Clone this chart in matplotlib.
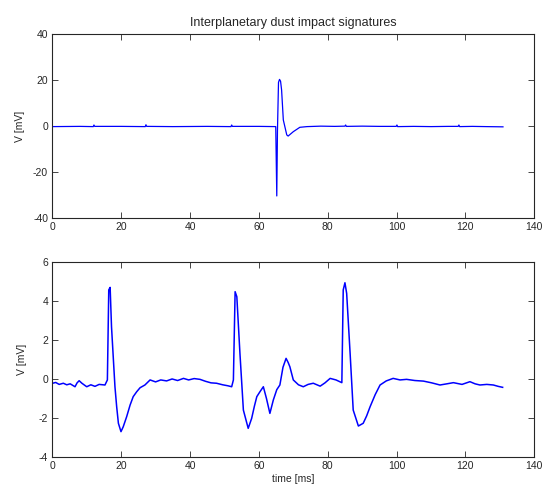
import matplotlib
matplotlib.use("Agg")
import matplotlib.pyplot as plt

# --- Data ---
# top panel: single large impact
t_top = [0.0, 8.0, 11.9, 12.1, 12.3, 20.0, 27.0, 27.2, 27.4, 35.0, 45.0, 51.9, 52.1, 52.3,
         60.0, 64.9, 65.2, 65.4, 65.7, 66.0, 66.3, 66.6, 67.1, 68.1, 68.5, 70.0, 71.9, 74.0,
         78.0, 82.0, 85.0, 85.2, 85.4, 90.0, 95.0, 99.9, 100.1, 100.3, 105.0, 110.0, 115.0,
         117.9, 118.1, 118.3, 122.0, 126.0, 130.9]
v_top = [-0.2, -0.1, -0.2, 0.5, -0.1, -0.1, -0.2, 0.6, -0.1, -0.2, -0.1, -0.2, 0.5, -0.1,
         -0.1, -0.2, -30.3, -2.0, 19.0, 20.3, 19.5, 15.7, 2.7, -3.8, -4.3, -2.4, -0.5, -0.2,
         0.0, -0.1, 0.0, 0.5, -0.1, 0.0, -0.1, -0.1, 0.5, -0.2, -0.1, -0.2, -0.1,
         -0.1, 0.5, -0.2, -0.1, -0.2, -0.3]

# bottom panel: three impacts
t_bot = [0.1, 1.0, 2.0, 3.2, 4.2, 5.2, 6.6, 7.2, 7.8, 8.6, 10.0, 11.2, 12.4, 13.6, 15.3,
         16.0, 16.4, 16.8, 17.2, 17.7, 18.2, 18.7, 19.2, 19.95, 20.6, 21.6, 22.6, 23.5,
         24.5, 25.5, 26.9, 28.4, 30.0, 31.5, 33.2, 34.8, 36.4, 38.1, 39.6, 41.2, 42.9,
         44.5, 46.1, 47.7, 49.5, 51.0, 52.1, 52.6, 53.1, 53.6, 54.5, 55.5, 56.9, 57.9,
         58.7, 59.4, 60.3, 61.3, 62.2, 63.2, 64.2, 65.2, 66.1, 67.0, 67.9, 68.5, 69.0,
         70.0, 71.5, 72.9, 74.3, 75.8, 77.8, 79.2, 80.7, 82.4, 84.1, 84.5, 85.0, 85.5,
         86.5, 87.4, 88.9, 90.3, 91.3, 92.3, 93.8, 95.2, 97.0, 99.0, 101.0, 102.9, 105.3,
         107.8, 110.2, 112.6, 114.6, 116.5, 119.0, 121.3, 122.8, 124.2, 126.2, 128.1,
         129.5, 130.8]
v_bot = [-0.22, -0.18, -0.28, -0.22, -0.30, -0.25, -0.40, -0.20, -0.09, -0.22, -0.40, -0.30,
         -0.38, -0.28, -0.31, -0.05, 4.58, 4.71, 2.69, 1.14, -0.40, -1.43, -2.28, -2.71,
         -2.46, -1.94, -1.34, -0.91, -0.66, -0.45, -0.31, -0.05, -0.15, -0.05, -0.10, 0.00,
         -0.08, 0.03, -0.05, 0.02, -0.02, -0.12, -0.20, -0.22, -0.30, -0.35, -0.40, -0.05,
         4.49, 4.23, 1.32, -1.60, -2.54, -2.03, -1.40, -0.91, -0.66, -0.40, -1.00, -1.77,
         -1.08, -0.55, -0.31, 0.60, 1.06, 0.85, 0.63, -0.05, -0.30, -0.40, -0.28, -0.22,
         -0.37, -0.20, 0.03, -0.05, -0.19, 4.58, 4.95, 4.40, 1.32, -1.60, -2.42, -2.28,
         -1.90, -1.43, -0.80, -0.31, -0.10, 0.03, -0.05, -0.02, -0.08, -0.11, -0.20, -0.31,
         -0.25, -0.19, -0.28, -0.14, -0.25, -0.31, -0.28, -0.31, -0.38, -0.43]

x_ticks = [0, 20, 40, 60, 80, 100, 120, 140]
y_ticks_top = [-40, -20, 0, 20, 40]
y_ticks_bot = [-4, -2, 0, 2, 4, 6]

plt.rcParams['font.family'] = ['Liberation Sans', 'DejaVu Sans']
plt.rcParams['font.size'] = 7.5
plt.rcParams['axes.unicode_minus'] = False

fig = plt.figure(figsize=(5.43, 4.92), dpi=100)
fig.patch.set_facecolor('white')

ax1 = fig.add_axes([0.0963, 0.5563, 0.8877, 0.3746])
ax2 = fig.add_axes([0.0963, 0.0717, 0.8877, 0.3951])

ax1.plot(t_top, v_top, color='#0000ff', lw=0.9)
ax2.plot(t_bot, v_bot, color='#0000ff', lw=1.1)

for ax, yt, lx in ((ax1, y_ticks_top, -0.057), (ax2, y_ticks_bot, -0.052)):
    ax.set_xlim(0, 140)
    ax.set_ylim(yt[0], yt[-1])
    ax.set_xticks(x_ticks)
    ax.set_yticks(yt)
    ax.tick_params(direction='in', length=4, width=0.6, top=True, right=True,
                   colors='#262626', labelcolor='#262626', pad=3)
    for sp in ax.spines.values():
        sp.set_linewidth(0.8)
        sp.set_color('#262626')
    ax.set_ylabel('V [mV]', color='#262626')
    ax.yaxis.set_label_coords(lx, 0.5)

ax1.set_title('Interplanetary dust impact signatures', color='#262626', pad=6)
ax2.set_xlabel('time [ms]', color='#262626', labelpad=2)

fig.savefig('out.png', dpi=100, facecolor='white')
